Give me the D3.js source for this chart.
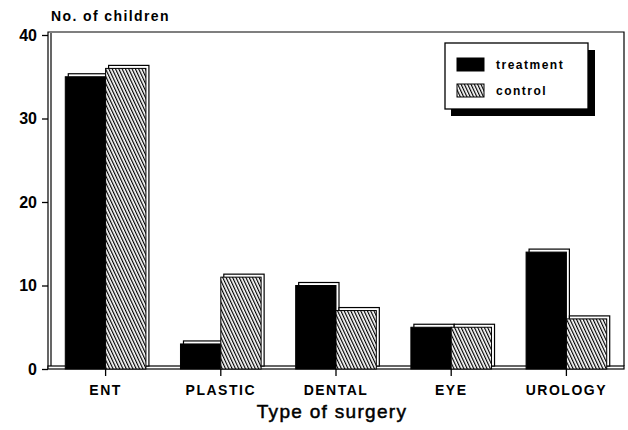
<!DOCTYPE html>
<html>
<head>
<meta charset="utf-8">
<script src="https://cdn.jsdelivr.net/npm/d3@7"></script>
<style>
  body { margin: 0; background: #fff; }
  svg text { font-family: "Liberation Sans", Arial, sans-serif; fill: #000; }
</style>
</head>
<body>
<svg id="chart" width="628" height="430"></svg>
<script>
// data
var categories = ["ENT", "PLASTIC", "DENTAL", "EYE", "UROLOGY"];
var seriesNames = ["treatment", "control"];
var treatment = [35, 3, 10, 5, 14];
var control = [36, 11, 7, 5, 6];
var yTicks = [0, 10, 20, 30, 40];

var svg = d3.select("#chart");
var depth = 3; // 3D offset of bars and frame

// hatch for control bars
var defs = svg.append("defs");
defs.append("pattern")
    .attr("id", "hatch")
    .attr("patternUnits", "userSpaceOnUse")
    .attr("width", 3).attr("height", 10)
    .attr("patternTransform", "rotate(-25)")
  .append("rect")
    .attr("width", 1.2).attr("height", 10)
    .attr("fill", "#000");

var x = d3.scaleBand().domain(categories).range([48, 624]).paddingInner(0.3).paddingOuter(0.15);
var xs = d3.scaleBand().domain(seriesNames).range([0, x.bandwidth()]);
var y = d3.scaleLinear().domain([0, 40]).range([369, 35]);
var fills = { treatment: "#000", control: "url(#hatch)" };

var frameL = 48, frameR = 624, frameT = y(40) - 3;

// frame: left wall, top, right, floor
var frame = svg.append("g").attr("fill", "none").attr("stroke", "#000").attr("stroke-width", 1.2);
frame.append("path").attr("d", "M" + frameL + "," + y(0) + "V" + frameT + "H" + frameR + "V" + (y(0) - depth));
frame.append("path").attr("d", "M" + (frameL + depth) + "," + (y(0) - depth) + "V" + (frameT + 1));
svg.append("rect")
    .attr("x", frameL).attr("y", y(0) - depth)
    .attr("width", frameR - frameL).attr("height", depth)
    .attr("fill", "#fff").attr("stroke", "#000").attr("stroke-width", 1.2);

// bars
var rows = [];
categories.forEach(function(c, i) {
  rows.push({ cat: c, key: "treatment", value: treatment[i] });
  rows.push({ cat: c, key: "control", value: control[i] });
});

var bars = svg.append("g").selectAll("g").data(rows).join("g");
// back face (gives depth)
bars.append("rect")
    .attr("x", function(d) { return x(d.cat) + xs(d.key) + depth; })
    .attr("y", function(d) { return y(d.value) - depth; })
    .attr("width", xs.bandwidth())
    .attr("height", function(d) { return y(0) - y(d.value); })
    .attr("fill", "#fff").attr("stroke", "#000").attr("stroke-width", 1.2);
bars.append("rect")
    .attr("x", function(d) { return x(d.cat) + xs(d.key); })
    .attr("y", function(d) { return y(d.value); })
    .attr("width", xs.bandwidth())
    .attr("height", function(d) { return y(0) - y(d.value); })
    .attr("fill", "#fff").attr("stroke", "#000").attr("stroke-width", 1);
bars.append("rect")
    .attr("x", function(d) { return x(d.cat) + xs(d.key); })
    .attr("y", function(d) { return y(d.value); })
    .attr("width", xs.bandwidth())
    .attr("height", function(d) { return y(0) - y(d.value); })
    .attr("fill", function(d) { return fills[d.key]; });

// axes
var yAxis = svg.append("g")
    .attr("transform", "translate(" + frameL + ",0)")
    .call(d3.axisLeft(y).tickValues(yTicks).tickSize(6).tickPadding(5));
yAxis.select(".domain").remove();
yAxis.selectAll("line").attr("stroke-width", 1.3);
yAxis.selectAll("text").attr("font-size", 16).attr("font-weight", "bold")
    .style("font-family", "Liberation Sans, Arial, sans-serif");

var xAxis = svg.append("g")
    .attr("transform", "translate(0," + y(0) + ")")
    .call(d3.axisBottom(x).tickSize(7).tickPadding(9));
xAxis.select(".domain").remove();
xAxis.selectAll("line").attr("stroke-width", 1.3);
xAxis.selectAll("text").attr("font-size", 14).attr("font-weight", "bold")
    .attr("letter-spacing", 1.5)
    .style("font-family", "Liberation Sans, Arial, sans-serif");

// titles
svg.append("text").attr("x", 51).attr("y", 21)
    .attr("font-size", 14).attr("font-weight", "bold")
    .attr("letter-spacing", 1.4)
    .text("No. of children");
svg.append("text").attr("x", 332).attr("y", 418)
    .attr("text-anchor", "middle").attr("font-size", 19)
    .attr("letter-spacing", 1.3)
    .attr("stroke", "#000").attr("stroke-width", 0.5)
    .text("Type of surgery");

// legend
var lg = svg.append("g").attr("transform", "translate(445,43)");
lg.append("rect").attr("x", 6).attr("y", 7).attr("width", 144).attr("height", 66).attr("fill", "#000");
lg.append("rect").attr("width", 143).attr("height", 66)
    .attr("fill", "#fff").attr("stroke", "#000").attr("stroke-width", 1.3);
var li = lg.selectAll("g.item").data(seriesNames).join("g")
    .attr("class", "item")
    .attr("transform", function(d, i) { return "translate(12," + (15 + i * 26) + ")"; });
li.append("rect").attr("width", 27).attr("height", 13)
    .attr("fill", function(d) { return fills[d]; })
    .attr("stroke", "#000").attr("stroke-width", 1);
li.append("text").attr("x", 39).attr("y", 11)
    .attr("font-size", 12).attr("font-weight", "bold")
    .attr("letter-spacing", 1.5)
    .text(function(d) { return d; });
</script>
</body>
</html>
